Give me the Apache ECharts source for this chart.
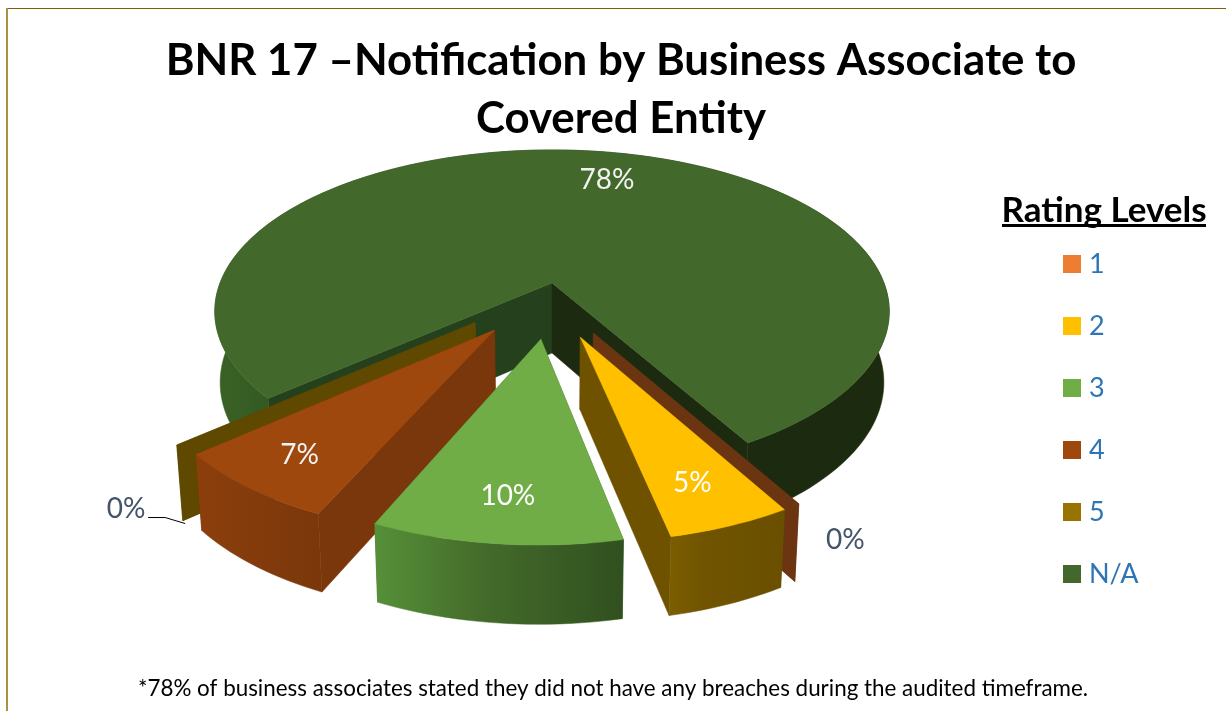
<!DOCTYPE html>
<html><head><meta charset="utf-8">
<style>html,body{margin:0;padding:0;background:#fff}#c{width:1226px;height:711px}</style>
<script src="https://cdn.jsdelivr.net/npm/echarts@6/dist/echarts.min.js"></script>
</head><body><div id="c"></div>
<script>
// ---- data ----
const categories = ['1', '2', '3', '4', '5', 'N/A'];
const percentages = [0, 5, 10, 7, 0, 78];
const titleText = 'BNR 17 –Notification by Business Associate to\nCovered Entity';
const legendTitle = 'Rating Levels';
const footnote = '*78% of business associates stated they did not have any breaches during the audited timeframe.';
const legendColors = ['#ED7D31', '#FFC000', '#70AD47', '#9E480E', '#997300', '#43682B'];

// ---- styling of the 3D look ----
const topColors = ['#6B3512', '#FFC000', '#70AD47', '#9E480E', '#5F4800', '#43682B'];
const sideWallColors = ['#6B3512', '#6E5200', '#3F6A28', '#7A370B', '#5F4800', '#24401C'];   // wall at the slice's start angle
const endWallColors  = ['#6B3512', '#6E5200', '#3F6A28', '#7A370B', '#5F4800', '#1C2B10'];   // wall at the slice's end angle
const outerStops = [
  [[0, '#6B3512'], [1, '#6B3512']],
  [[0, '#7C5D00'], [.3, '#705400'], [1, '#6A4F00']],
  [[0, '#569038'], [.45, '#436A2A'], [1, '#30501F']],
  [[0, '#8C3F0C'], [1, '#7A370B']],
  [[0, '#5F4800'], [1, '#5F4800']],
  [[0, '#3A6226'], [.08, '#345A22'], [.6, '#1C2B10'], [1, '#1C2B10']]
];
const explode = [0.35, 0.35, 0.34, 0.355, 0.37, 0];
const sliceScale = [0.955, 0.955, 0.955, 0.97, 0.97, 1];
const xShift = [-0.008, -0.01, -0.006, -0.012, -0.02, 0];
const drawOrder = [2, 3, 4, 3, 2, 1];
const labelOffsets = [[252, 207], [112, 146], [-33, 157], [-195, 125], [-349, 186], [55, -103]];
const labelColors = ['#44546A', '#FFFFFF', '#FFFFFF', '#F2F2F2', '#44546A', '#F2F2F2'];
const FONT = 'Lato, Carlito, sans-serif';

// projection of the pie plane
const START = 30, CX = 552, CY = 283, RX = 332, A = 156.5, K = 0.176, DEPTH = 70, SHRINK = 0.984, SPREAD = 0.72;
function proj(u, v, low) {
  const s = 1 / (1 - K * v);
  let x = RX * u * s, y = A * v * s;
  if (low) { x *= SHRINK; y += DEPTH * (1 + 0.45 * (s - 1)); }
  return [CX + x, CY + y];
}
const rad = d => d * Math.PI / 180;

function sliceAngles(i) {
  const total = percentages.reduce((a, b) => a + b, 0);
  let t = START;
  for (let k = 0; k < i; k++) t -= percentages[k] / total * 360;
  return [t, t - percentages[i] / total * 360];
}

function renderSlice(i, params, api) {
  const value = api.value(0);
  const [a0, a1] = sliceAngles(i);
  const mid = (a0 + a1) / 2;
  const ox = explode[i] * Math.sin(rad(mid)) * SPREAD + xShift[i], oy = explode[i] * Math.cos(rad(mid));
  const R = sliceScale[i];
  const pt = (a, r, low) => proj(ox + R * r * Math.sin(rad(a)), oy + R * r * Math.cos(rad(a)), low);
  const arc = low => {
    const n = Math.max(2, Math.ceil(Math.abs(a0 - a1) / 1.5)), out = [];
    for (let k = 0; k <= n; k++) out.push(pt(a0 + (a1 - a0) * k / n, 1, low));
    return out;
  };
  const children = [];
  const poly = (points, fill) => children.push({ type: 'polygon', shape: { points }, style: { fill, stroke: fill, lineWidth: 0.5 } });
  const wall = (a, c) => poly([pt(a, 0, false), pt(a, 1, false), pt(a, 1, true), pt(a, 0, true)], c);
  wall(a0, sideWallColors[i]);
  wall(a1, endWallColors[i]);
  if (value > 0) {
    const stops = outerStops[i].map(s => ({ offset: s[0], color: s[1] }));
    poly(arc(false).concat(arc(true).reverse()), new echarts.graphic.LinearGradient(0, 0, 1, 0, stops));
    poly([pt(a0, 0, false)].concat(arc(false)), topColors[i]);
  }
  const apex = pt(a0, 0, false);
  const lab = [apex[0] + labelOffsets[i][0], apex[1] + labelOffsets[i][1]];
  children.push({
    type: 'text', x: lab[0], y: lab[1], z2: 50,
    style: { text: Math.round(value) + '%', fill: labelColors[i], font: '28px ' + FONT, align: 'center', verticalAlign: 'middle' }
  });
  if (categories[i] === '5') {
    children.push({
      type: 'polyline', z2: 50,
      shape: { points: [[lab[0] + 22, lab[1] + 9], [lab[0] + 39, lab[1] + 9], [lab[0] + 59, lab[1] + 15]] },
      style: { stroke: '#000', lineWidth: 1, fill: 'none' }
    });
  }
  return { type: 'group', children };
}

const chart = echarts.init(document.getElementById('c'), null, { renderer: 'canvas' });
chart.setOption({
  animation: false,
  backgroundColor: '#fff',
  title: [
    { text: titleText, left: 616, top: 27, textAlign: 'center',
      textStyle: { fontFamily: FONT, fontWeight: 'bold', fontSize: 43.8, lineHeight: 58, color: '#000' } },
    { text: legendTitle, left: 1099, top: 188, textAlign: 'center',
      textStyle: { fontFamily: FONT, fontWeight: 'bold', fontSize: 35, color: '#000' } },
    { text: footnote, left: 608, top: 673, textAlign: 'center',
      textStyle: { fontFamily: FONT, fontWeight: 'normal', fontSize: 22.4, color: '#000' } }
  ],
  legend: {
    orient: 'vertical', left: 1063, top: 249, padding: 0, itemWidth: 18, itemHeight: 18, itemGap: 32,
    icon: 'rect', data: categories, selectedMode: false,
    textStyle: { fontFamily: FONT, fontSize: 27, lineHeight: 30, color: '#2E75B6', padding: [0, 0, 0, 3] }
  },
  graphic: [
    { type: 'line', shape: { x1: 1002, y1: 225.5, x2: 1206, y2: 225.5 }, style: { stroke: '#000', lineWidth: 3 } },
    { type: 'line', shape: { x1: 7, y1: 8.5, x2: 1226, y2: 8.5 }, style: { stroke: '#7F6000', lineWidth: 1.2 } },
    { type: 'line', shape: { x1: 7, y1: 8, x2: 7, y2: 711 }, style: { stroke: '#AB9241', lineWidth: 2 } }
  ],
  series: categories.map((name, i) => ({
    type: 'custom', name, coordinateSystem: 'none', z: drawOrder[i],
    itemStyle: { color: legendColors[i] },
    data: [[percentages[i]]],
    renderItem: (p, api) => renderSlice(i, p, api)
  }))
});
</script></body></html>
